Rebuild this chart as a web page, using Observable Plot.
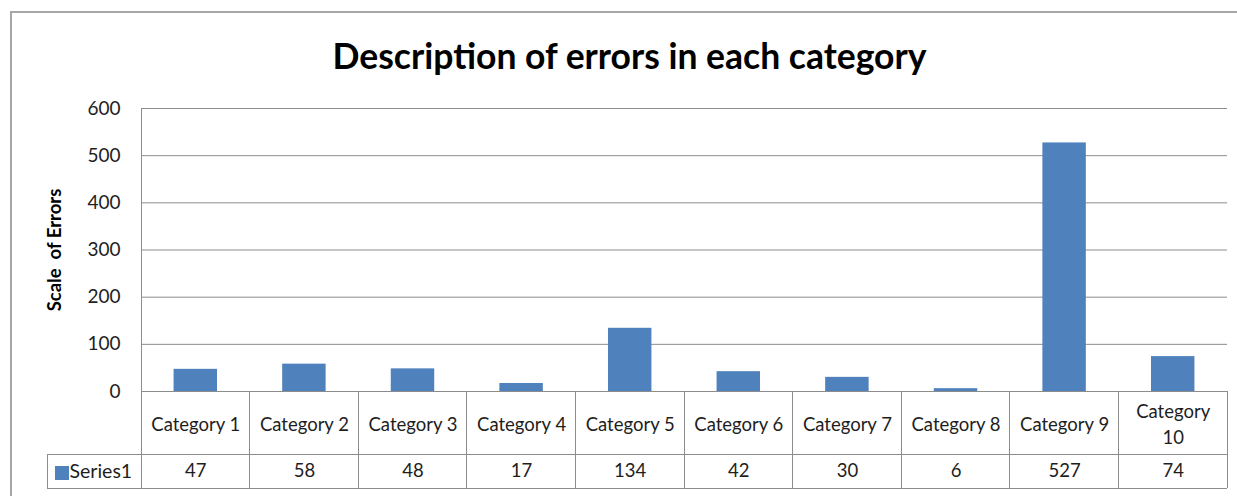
<!DOCTYPE html>
<html>
<head>
<meta charset="utf-8">
<script src="https://cdn.jsdelivr.net/npm/d3@7"></script>
<script src="https://cdn.jsdelivr.net/npm/@observablehq/plot@0.6"></script>
<style>
  html, body { margin: 0; padding: 0; background: #fff; }
  #wrap { position: relative; width: 1237px; height: 496px; overflow: hidden; }
  #border { position: absolute; left: 10px; top: 11px; width: 1300px; height: 600px;
            border: 2px solid #a6a6a6; box-sizing: border-box; }
  #chart { position: absolute; left: 0; top: 0; }
  svg { font-family: Lato, "Open Sans", sans-serif; }
</style>
</head>
<body>
<div id="wrap"><div id="border"></div><div id="chart"></div></div>
<script>
const categories = ["Category 1","Category 2","Category 3","Category 4","Category 5",
                    "Category 6","Category 7","Category 8","Category 9","Category 10"];
const series1 = [47, 58, 48, 17, 134, 42, 30, 6, 527, 74];
const yTicks = [0, 100, 200, 300, 400, 500, 600];
const seriesName = "Series1";
const title = "Description of errors in each category";
const yLabel = "Scale  of Errors";

const data = categories.map((c, i) => ({category: c, value: series1[i]}));
const wrapLabel = s => s.length > 10 ? s.replace(" ", "\n") : s;

const blue = "#4F81BD";
const lineGray = "#8c8c8c";
const textColor = "#1e1e1e";

const plot = Plot.plot({
  width: 1237,
  height: 496,
  marginLeft: 141,
  marginRight: 10,
  marginTop: 108,
  marginBottom: 105,
  style: {fontFamily: "Lato, 'Open Sans', sans-serif", fontSize: "18px", color: textColor, background: "transparent", overflow: "visible"},
  x: {domain: categories, paddingInner: 0.6, paddingOuter: 0.3, round: false, axis: null},
  y: {domain: [0, 600], ticks: yTicks, axis: null},
  marks: [
    Plot.gridY(yTicks, {stroke: lineGray, strokeOpacity: 1, strokeWidth: 1}),
    Plot.axisY(yTicks, {tickSize: 0, tickPadding: 21, fontSize: 19, fill: textColor, label: null}),
    Plot.barY(data, {x: "category", y: "value", fill: blue}),
    // data table: category row
    Plot.text(data, {x: "category", text: d => wrapLabel(d.category), frameAnchor: "bottom",
                     lineAnchor: "middle", dy: 31, fontSize: 18.5, lineHeight: 1.4, fill: textColor}),
    // data table: value row
    Plot.text(data, {x: "category", text: d => String(d.value), frameAnchor: "bottom",
                     lineAnchor: "middle", dy: 80, fontSize: 18.5, fill: textColor}),
    // title
    Plot.text([title], {frameAnchor: "top", lineAnchor: "middle", dy: -51, dx: -55, fontSize: 35.5, fontWeight: "bold", fill: "#000"}),
    // y label
    Plot.text([yLabel], {frameAnchor: "left", rotate: -90, textAnchor: "middle", lineAnchor: "middle",
                         dx: -86, dy: 0, fontSize: 18.5, fontWeight: "bold", fill: "#000"}),
    // legend key in table
    Plot.text([seriesName], {frameAnchor: "bottom-left", lineAnchor: "middle", dx: -72, dy: 80, textAnchor: "start", fontSize: 19.5, fill: textColor})
  ]
});

document.getElementById("chart").appendChild(plot);
d3.select(plot).selectAll("text").style("white-space", "pre");

// Data-table cell borders and axis line, positioned from Plot's own scales
const xs = plot.scale("x");
const ys = plot.scale("y");
const svg = d3.select(plot);
const x0 = xs.range[0], x1 = xs.range[1];
const step = xs.step;
const yZero = ys.apply(0), yTop = ys.apply(600);
const rowSplit = yZero + 63, rowBottom = yZero + 97, legendLeft = 47;
const g = svg.append("g").attr("stroke", lineGray).attr("stroke-width", 1).attr("shape-rendering", "crispEdges");
// left axis line
g.append("line").attr("x1", x0).attr("x2", x0).attr("y1", yTop).attr("y2", rowBottom);
// column separators
for (let i = 1; i <= categories.length; i++) {
  const xx = x0 + i * step;
  g.append("line").attr("x1", xx).attr("x2", xx).attr("y1", yZero).attr("y2", rowBottom);
}
// horizontal table lines
g.append("line").attr("x1", legendLeft).attr("x2", x1).attr("y1", rowSplit).attr("y2", rowSplit);
g.append("line").attr("x1", legendLeft).attr("x2", x1).attr("y1", rowBottom).attr("y2", rowBottom);
g.append("line").attr("x1", legendLeft).attr("x2", legendLeft).attr("y1", rowSplit).attr("y2", rowBottom);
// legend swatch
svg.append("rect").attr("x", legendLeft + 8).attr("y", yZero + 75).attr("width", 14).attr("height", 14).attr("fill", blue);
</script>
</body>
</html>
